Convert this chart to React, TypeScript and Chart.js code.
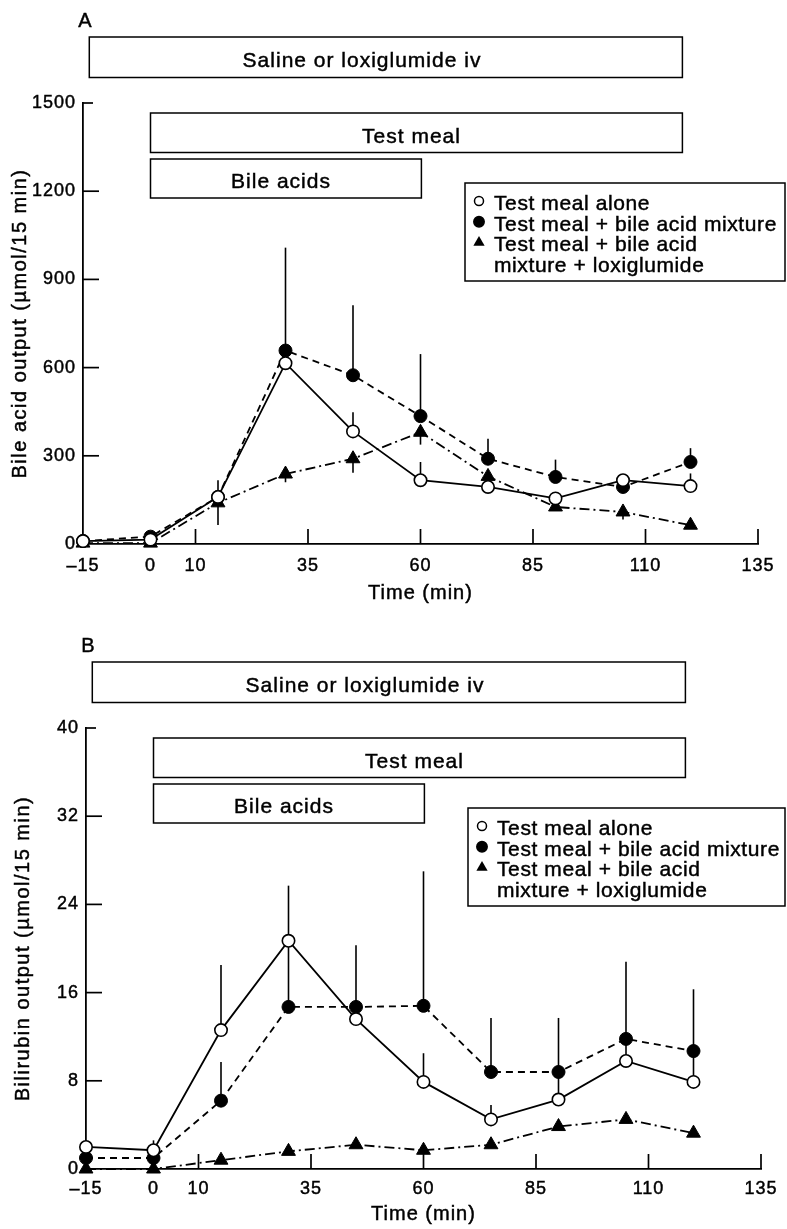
import React, { useEffect, useRef } from 'react';
import { Chart, registerables } from 'chart.js';

Chart.register(...registerables);

// ---------- data ----------
const TIMES = [-15, 0, 15, 30, 45, 60, 75, 90, 105, 120];
const X_TICKS = [-15, 0, 10, 35, 60, 85, 110, 135];
const X_MARK_TICKS = [10, 35, 60, 85, 110, 135];

const SERIES_LABELS = ['Test meal alone', 'Test meal + bile acid mixture', 'Test meal + bile acid', 'mixture + loxiglumide'];

const BOX_LABELS = ['Saline or loxiglumide iv', 'Test meal', 'Bile acids'];
const BOX_FROM = [-13.6, 0, 0];
const BOX_TO = [118.2, 118.2, 60.2];
const BOX_LABEL_AT = [47, 58, 29];

// Panel A: bile acid output (µmol/15 min)
const A_Y_TICKS = [0, 300, 600, 900, 1200, 1500];
const A_ALONE = [10, 15, 160, 615, 383, 217, 194, 155, 217, 197];
const A_ALONE_SEM = [null, null, null, null, 65, 62, null, null, null, 43];
const A_BILE = [10, 25, 160, 658, 574, 435, 290, 228, 194, 279];
const A_BILE_SEM = [null, null, 57, 350, 238, 211, 68, 59, null, 47];
const A_LOXI = [3, 3, 140, 238, 290, 380, 230, 126, 109, 64];
const A_LOXI_SEM = [null, null, 75, 28, 48, 42, null, null, 26, null];

// Panel B: bilirubin output (µmol/15 min)
const B_Y_TICKS = [0, 8, 16, 24, 32, 40];
const B_ALONE = [2.0, 1.7, 12.6, 20.7, 13.6, 7.9, 4.5, 6.3, 9.8, 7.9];
const B_ALONE_SEM = [null, 0.9, 5.9, 5.0, null, 2.6, 1.3, 2.6, 1.5, 2.5];
const B_BILE = [1.0, 1.0, 6.2, 14.7, 14.7, 14.8, 8.8, 8.8, 11.8, 10.7];
const B_BILE_SEM = [null, null, 3.5, 5.5, 5.6, 12.2, 4.9, 4.9, 7.0, 5.6];
const B_LOXI = [0, 0, 0.8, 1.6, 2.2, 1.7, 2.2, 3.85, 4.5, 3.25];
const B_LOXI_SEM = [null, null, null, null, null, null, null, null, null, null];

// ---------- styling ----------
const FONT = "'Liberation Sans', Arial, Helvetica, sans-serif";
const W = 787;
const TEXT_STROKE = 0.45;

type Panel = {
  letter: string;
  yTitle: string;
  yMax: number;
  yTicks: number[];
  alone: number[]; aloneSem: (number | null)[];
  bile: number[]; bileSem: (number | null)[];
  loxi: number[]; loxiSem: (number | null)[];
  pageTop: number; height: number;
  padTop: number; yWidth: number; padRight: number; xHeight: number;
  xLabelPad: number; xTitleDy: number;
};

const PANELS: Panel[] = [
  {
    letter: 'A', yTitle: 'Bile acid output (\u00b5mol/15 min)', yMax: 1500, yTicks: A_Y_TICKS,
    alone: A_ALONE, aloneSem: A_ALONE_SEM, bile: A_BILE, bileSem: A_BILE_SEM, loxi: A_LOXI, loxiSem: A_LOXI_SEM,
    pageTop: 0, height: 614, padTop: 103, yWidth: 83, padRight: 29, xHeight: 70, xLabelPad: 11, xTitleDy: 49,
  },
  {
    letter: 'B', yTitle: 'Bilirubin output (\u00b5mol/15 min)', yMax: 40, yTicks: B_Y_TICKS,
    alone: B_ALONE, aloneSem: B_ALONE_SEM, bile: B_BILE, bileSem: B_BILE_SEM, loxi: B_LOXI, loxiSem: B_LOXI_SEM,
    pageTop: 614, height: 615, padTop: 114, yWidth: 86, padRight: 26, xHeight: 60, xLabelPad: 9.5, xTitleDy: 45,
  },
];

// box vertical placement relative to the top of the plot area (px)
const BOX_DY = [[-66, -25.5], [10, 49.5], [56, 95]];

function line(ctx: CanvasRenderingContext2D, x0: number, y0: number, x1: number, y1: number) {
  ctx.beginPath();
  ctx.moveTo(x0, y0);
  ctx.lineTo(x1, y1);
  ctx.stroke();
}

function text(ctx: CanvasRenderingContext2D, s: string, x: number, y: number) {
  ctx.save();
  ctx.lineWidth = TEXT_STROKE;
  ctx.strokeStyle = '#000';
  ctx.fillStyle = '#000';
  ctx.strokeText(s, x, y);
  ctx.fillText(s, x, y);
  ctx.restore();
}

function marker(ctx: CanvasRenderingContext2D, kind: number, x: number, y: number) {
  ctx.save();
  ctx.lineWidth = 1.5;
  ctx.strokeStyle = '#000';
  ctx.beginPath();
  if (kind === 2) {
    const r = 6.5;
    ctx.moveTo(x, y - r);
    ctx.lineTo(x + r * 0.866, y + r / 2);
    ctx.lineTo(x - r * 0.866, y + r / 2);
    ctx.closePath();
    ctx.fillStyle = '#000';
    ctx.fill();
  } else {
    ctx.arc(x, y, kind === 0 ? 4.5 : 5.2, 0, Math.PI * 2);
    ctx.fillStyle = kind === 0 ? '#fff' : '#000';
    ctx.fill();
    ctx.stroke();
  }
  ctx.restore();
}

function makePlugin(p: Panel) {
  return {
    id: 'decor' + p.letter,
    beforeDraw(chart: any) {
      chart.ctx.letterSpacing = '1px';
    },
    beforeDatasetsDraw(chart: any) {
      const ctx: CanvasRenderingContext2D = chart.ctx;
      const xs = chart.scales.x;
      const ys = chart.scales.y;
      ctx.save();
      ctx.strokeStyle = '#000';
      ctx.lineWidth = 1.6;
      const groups: [number[], (number | null)[], number][] = [
        [p.alone, p.aloneSem, 1],
        [p.bile, p.bileSem, 1],
        [p.loxi, p.loxiSem, -1],
      ];
      for (const [vals, sems, dir] of groups) {
        TIMES.forEach((t, i) => {
          const s = sems[i];
          if (s == null) return;
          const px = xs.getPixelForValue(t);
          line(ctx, px, ys.getPixelForValue(vals[i]), px, ys.getPixelForValue(vals[i] + dir * s));
        });
      }
      ctx.restore();
    },
    afterDraw(chart: any) {
      const ctx: CanvasRenderingContext2D = chart.ctx;
      const xs = chart.scales.x;
      const ys = chart.scales.y;
      const { left, top, right, bottom } = chart.chartArea;
      ctx.save();
      ctx.strokeStyle = '#000';
      ctx.fillStyle = '#000';
      ctx.lineWidth = 1.7;
      // inward tick marks
      X_MARK_TICKS.forEach((v) => {
        const px = xs.getPixelForValue(v);
        line(ctx, px, bottom, px, bottom - 15);
      });
      p.yTicks.forEach((v) => {
        if (v === 0) return;
        const py = ys.getPixelForValue(v);
        line(ctx, left, py, left + (v === p.yMax ? 10 : 16), py);
      });
      // axis titles
      ctx.textAlign = 'center';
      ctx.textBaseline = 'middle';
      ctx.font = `20px ${FONT}`;
      ctx.letterSpacing = '1px';
      text(ctx, 'Time (min)', (left + right) / 2, bottom + p.xTitleDy);
      ctx.save();
      ctx.translate(left - 63, (top + bottom) / 2);
      ctx.rotate(-Math.PI / 2);
      ctx.letterSpacing = '1.5px';
      text(ctx, p.yTitle, 0, 0);
      ctx.restore();
      // panel letter
      ctx.font = `20px ${FONT}`;
      ctx.letterSpacing = '0px';
      text(ctx, p.letter, left + 2, top - 82);
      // protocol boxes
      ctx.lineWidth = 1.5;
      BOX_LABELS.forEach((label, i) => {
        const x0 = xs.getPixelForValue(BOX_FROM[i]);
        const x1 = xs.getPixelForValue(BOX_TO[i]);
        const y0 = top + BOX_DY[i][0];
        const y1 = top + BOX_DY[i][1];
        ctx.fillStyle = '#fff';
        ctx.fillRect(x0, y0, x1 - x0, y1 - y0);
        ctx.strokeRect(x0, y0, x1 - x0, y1 - y0);
        ctx.font = `21px ${FONT}`;
        ctx.letterSpacing = '1px';
        ctx.textAlign = 'center';
        text(ctx, label, xs.getPixelForValue(BOX_LABEL_AT[i]), (y0 + y1) / 2 + 4);
      });
      // legend
      const lx = left + 382;
      const ly = top + 80;
      const lw = W - 2 - lx;
      const lh = 98;
      ctx.fillStyle = '#fff';
      ctx.fillRect(lx, ly, lw, lh);
      ctx.strokeRect(lx, ly, lw, lh);
      ctx.font = `21px ${FONT}`;
      ctx.letterSpacing = '0.6px';
      ctx.textAlign = 'left';
      ctx.textBaseline = 'middle';
      SERIES_LABELS.forEach((label, i) => {
        const cy = ly + 21 + i * 20.8;
        if (i < 3) marker(ctx, i, lx + 14, cy - 3);
        text(ctx, label, lx + 29, cy);
      });
      ctx.restore();
    },
  };
}

function PanelChart({ p }: { p: Panel }) {
  const ref = useRef<HTMLCanvasElement>(null);
  useEffect(() => {
    if (!ref.current) return;
    const mk = (vals: number[]) => TIMES.map((t, i) => ({ x: t, y: vals[i] }));
    const chart = new Chart(ref.current, {
      type: 'line',
      data: {
        datasets: [
          {
            label: SERIES_LABELS[0], data: mk(p.alone),
            borderColor: '#000', borderWidth: 1.8, tension: 0,
            pointStyle: 'circle', pointRadius: 6.2, pointBorderWidth: 1.6,
            pointBackgroundColor: '#fff', pointBorderColor: '#000', clip: false,
          },
          {
            label: SERIES_LABELS[1], data: mk(p.bile),
            borderColor: '#000', borderWidth: 1.8, borderDash: [7, 5], tension: 0,
            pointStyle: 'circle', pointRadius: 6.5, pointBorderWidth: 1,
            pointBackgroundColor: '#000', pointBorderColor: '#000', clip: false,
          },
          {
            label: SERIES_LABELS[2] + ' ' + SERIES_LABELS[3], data: mk(p.loxi),
            borderColor: '#000', borderWidth: 1.8, borderDash: [10, 4, 2, 4], tension: 0,
            pointStyle: 'triangle', pointRadius: 8, pointBorderWidth: 1,
            pointBackgroundColor: '#000', pointBorderColor: '#000', clip: false,
          },
        ],
      } as any,
      options: {
        responsive: false,
        devicePixelRatio: 1,
        animation: false,
        events: [],
        layout: { padding: { top: p.padTop, right: p.padRight, bottom: 0, left: 0 } },
        plugins: { legend: { display: false }, tooltip: { enabled: false }, title: { display: false } },
        scales: {
          x: {
            type: 'linear', min: -15, max: 135,
            afterBuildTicks: (axis: any) => { axis.ticks = X_TICKS.map((v) => ({ value: v })); },
            afterFit: (axis: any) => { axis.height = p.xHeight; },
            grid: { display: false, drawTicks: false },
            border: { display: true, color: '#000', width: 1.8 },
            ticks: {
              color: '#000', font: { family: FONT, size: 18 }, padding: p.xLabelPad,
              maxRotation: 0, autoSkip: false, textStrokeColor: '#000', textStrokeWidth: TEXT_STROKE,
              callback: (v: any) => (Number(v) < 0 ? '\u2013' + Math.abs(Number(v)) : String(v)),
            },
          },
          y: {
            type: 'linear', min: 0, max: p.yMax,
            afterBuildTicks: (axis: any) => { axis.ticks = p.yTicks.map((v) => ({ value: v })); },
            afterFit: (axis: any) => { axis.width = p.yWidth; },
            grid: { display: false, drawTicks: false },
            border: { display: true, color: '#000', width: 1.8 },
            ticks: {
              color: '#000', font: { family: FONT, size: 18 }, padding: 7, autoSkip: false,
              textStrokeColor: '#000', textStrokeWidth: TEXT_STROKE,
              callback: (v: any) => String(v),
            },
          },
        },
      } as any,
      plugins: [makePlugin(p)],
    });
    return () => chart.destroy();
  }, [p]);
  return (
    <canvas
      ref={ref}
      width={W}
      height={p.height}
      style={{ position: 'absolute', left: 0, top: p.pageTop, width: W, height: p.height, display: 'block' }}
    />
  );
}

export default function App() {
  return (
    <div style={{ position: 'absolute', left: 0, top: 0, width: W, height: 1229, background: '#fff', overflow: 'hidden' }}>
      {PANELS.map((p) => (
        <PanelChart key={p.letter} p={p} />
      ))}
    </div>
  );
}
